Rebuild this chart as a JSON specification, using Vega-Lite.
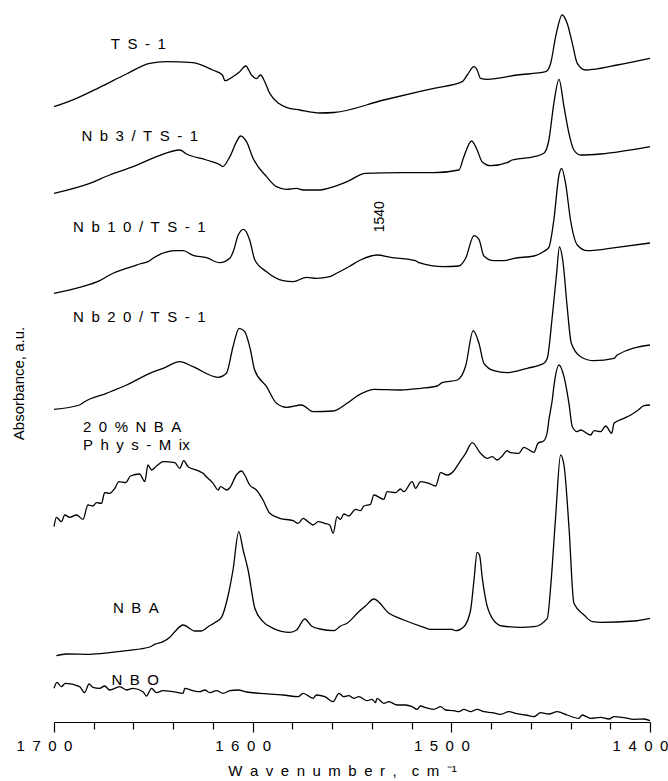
{
"$schema":"https://vega.github.io/schema/vega-lite/v6.json",
"width":596,"height":722,
"autosize":{"type":"none"},
"padding":{"left":54,"top":0,"right":18,"bottom":59},
"background":"white",
"config":{"view":{"stroke":null},"font":"Liberation Sans"},
"datasets":{
"spectra":[
{"sample":"TS-1","wn":1700,"A":6.153},{"sample":"TS-1","wn":1688.7,"A":6.237},{"sample":"TS-1","wn":1677,"A":6.347},{"sample":"TS-1","wn":1663.5,"A":6.48},{"sample":"TS-1","wn":1651.8,"A":6.587},{"sample":"TS-1","wn":1643.4,"A":6.603},{"sample":"TS-1","wn":1630.2,"A":6.593},{"sample":"TS-1","wn":1620.1,"A":6.52},{"sample":"TS-1","wn":1615.2,"A":6.47},{"sample":"TS-1","wn":1614,"A":6.413},{"sample":"TS-1","wn":1610,"A":6.453},{"sample":"TS-1","wn":1606.5,"A":6.503},{"sample":"TS-1","wn":1603.5,"A":6.56},{"sample":"TS-1","wn":1600.6,"A":6.47},{"sample":"TS-1","wn":1598.1,"A":6.433},{"sample":"TS-1","wn":1596.1,"A":6.47},{"sample":"TS-1","wn":1593.9,"A":6.403},{"sample":"TS-1","wn":1591.4,"A":6.287},{"sample":"TS-1","wn":1583,"A":6.147},{"sample":"TS-1","wn":1576.3,"A":6.12},{"sample":"TS-1","wn":1566.2,"A":6.09},{"sample":"TS-1","wn":1559.1,"A":6.095},{"sample":"TS-1","wn":1534,"A":6.22},{"sample":"TS-1","wn":1508.8,"A":6.337},{"sample":"TS-1","wn":1494.5,"A":6.403},{"sample":"TS-1","wn":1492,"A":6.47},{"sample":"TS-1","wn":1488.6,"A":6.553},{"sample":"TS-1","wn":1487,"A":6.52},{"sample":"TS-1","wn":1485.3,"A":6.437},{"sample":"TS-1","wn":1481.9,"A":6.427},{"sample":"TS-1","wn":1466.8,"A":6.47},{"sample":"TS-1","wn":1452.5,"A":6.503},{"sample":"TS-1","wn":1450,"A":6.587},{"sample":"TS-1","wn":1447.5,"A":6.853},{"sample":"TS-1","wn":1444.2,"A":7.07},{"sample":"TS-1","wn":1441.7,"A":6.987},{"sample":"TS-1","wn":1439.1,"A":6.787},{"sample":"TS-1","wn":1436.6,"A":6.587},{"sample":"TS-1","wn":1432.4,"A":6.52},{"sample":"TS-1","wn":1428.2,"A":6.527},{"sample":"TS-1","wn":1416.5,"A":6.57},{"sample":"TS-1","wn":1400,"A":6.637},
{"sample":"Nb3","wn":1700,"A":5.287},{"sample":"Nb3","wn":1682,"A":5.387},{"sample":"Nb3","wn":1672,"A":5.47},{"sample":"Nb3","wn":1660.2,"A":5.553},{"sample":"Nb3","wn":1648.4,"A":5.653},{"sample":"Nb3","wn":1636.7,"A":5.72},{"sample":"Nb3","wn":1633.3,"A":5.68},{"sample":"Nb3","wn":1623.3,"A":5.62},{"sample":"Nb3","wn":1615.7,"A":5.563},{"sample":"Nb3","wn":1615.2,"A":5.553},{"sample":"Nb3","wn":1611.5,"A":5.653},{"sample":"Nb3","wn":1608.1,"A":5.803},{"sample":"Nb3","wn":1606.1,"A":5.86},{"sample":"Nb3","wn":1603.1,"A":5.803},{"sample":"Nb3","wn":1599.8,"A":5.637},{"sample":"Nb3","wn":1593,"A":5.453},{"sample":"Nb3","wn":1588,"A":5.353},{"sample":"Nb3","wn":1583,"A":5.327},{"sample":"Nb3","wn":1578,"A":5.337},{"sample":"Nb3","wn":1574.6,"A":5.32},{"sample":"Nb3","wn":1566.2,"A":5.32},{"sample":"Nb3","wn":1559.1,"A":5.353},{"sample":"Nb3","wn":1552.5,"A":5.403},{"sample":"Nb3","wn":1543.2,"A":5.487},{"sample":"Nb3","wn":1525.5,"A":5.493},{"sample":"Nb3","wn":1508.8,"A":5.493},{"sample":"Nb3","wn":1496.2,"A":5.52},{"sample":"Nb3","wn":1493.7,"A":5.653},{"sample":"Nb3","wn":1489.8,"A":5.81},{"sample":"Nb3","wn":1487,"A":5.72},{"sample":"Nb3","wn":1484.5,"A":5.603},{"sample":"Nb3","wn":1480.2,"A":5.563},{"sample":"Nb3","wn":1471.9,"A":5.593},{"sample":"Nb3","wn":1469.4,"A":5.62},{"sample":"Nb3","wn":1458.4,"A":5.653},{"sample":"Nb3","wn":1453.4,"A":5.687},{"sample":"Nb3","wn":1450.9,"A":5.82},{"sample":"Nb3","wn":1448.4,"A":6.187},{"sample":"Nb3","wn":1445.8,"A":6.427},{"sample":"Nb3","wn":1443.3,"A":6.153},{"sample":"Nb3","wn":1440.8,"A":5.887},{"sample":"Nb3","wn":1438.3,"A":5.72},{"sample":"Nb3","wn":1434.9,"A":5.67},{"sample":"Nb3","wn":1424.9,"A":5.68},{"sample":"Nb3","wn":1400,"A":5.753},
{"sample":"Nb10","wn":1700,"A":4.287},{"sample":"Nb10","wn":1687.1,"A":4.347},{"sample":"Nb10","wn":1677,"A":4.413},{"sample":"Nb10","wn":1672,"A":4.47},{"sample":"Nb10","wn":1661.9,"A":4.547},{"sample":"Nb10","wn":1656.9,"A":4.58},{"sample":"Nb10","wn":1651.8,"A":4.613},{"sample":"Nb10","wn":1650.2,"A":4.637},{"sample":"Nb10","wn":1638.4,"A":4.713},{"sample":"Nb10","wn":1635,"A":4.713},{"sample":"Nb10","wn":1630,"A":4.667},{"sample":"Nb10","wn":1623.3,"A":4.643},{"sample":"Nb10","wn":1616.6,"A":4.593},{"sample":"Nb10","wn":1611.5,"A":4.637},{"sample":"Nb10","wn":1609.5,"A":4.72},{"sample":"Nb10","wn":1607.3,"A":4.87},{"sample":"Nb10","wn":1604.5,"A":4.927},{"sample":"Nb10","wn":1601.5,"A":4.82},{"sample":"Nb10","wn":1598.9,"A":4.62},{"sample":"Nb10","wn":1593,"A":4.503},{"sample":"Nb10","wn":1584.7,"A":4.413},{"sample":"Nb10","wn":1579.6,"A":4.403},{"sample":"Nb10","wn":1572.9,"A":4.447},{"sample":"Nb10","wn":1567.9,"A":4.437},{"sample":"Nb10","wn":1561.2,"A":4.453},{"sample":"Nb10","wn":1557.5,"A":4.49},{"sample":"Nb10","wn":1551.6,"A":4.553},{"sample":"Nb10","wn":1545.7,"A":4.62},{"sample":"Nb10","wn":1537.4,"A":4.67},{"sample":"Nb10","wn":1530.6,"A":4.647},{"sample":"Nb10","wn":1518,"A":4.613},{"sample":"Nb10","wn":1516.3,"A":4.593},{"sample":"Nb10","wn":1503.8,"A":4.553},{"sample":"Nb10","wn":1496.2,"A":4.56},{"sample":"Nb10","wn":1492.8,"A":4.637},{"sample":"Nb10","wn":1488.6,"A":4.863},{"sample":"Nb10","wn":1486.1,"A":4.827},{"sample":"Nb10","wn":1483.6,"A":4.66},{"sample":"Nb10","wn":1478.6,"A":4.613},{"sample":"Nb10","wn":1473.5,"A":4.613},{"sample":"Nb10","wn":1468.5,"A":4.637},{"sample":"Nb10","wn":1458.4,"A":4.66},{"sample":"Nb10","wn":1453.7,"A":4.703},{"sample":"Nb10","wn":1450.9,"A":4.747},{"sample":"Nb10","wn":1448.4,"A":5.02},{"sample":"Nb10","wn":1445.8,"A":5.47},{"sample":"Nb10","wn":1444.5,"A":5.537},{"sample":"Nb10","wn":1442.5,"A":5.387},{"sample":"Nb10","wn":1440,"A":5.02},{"sample":"Nb10","wn":1436.6,"A":4.77},{"sample":"Nb10","wn":1431.6,"A":4.713},{"sample":"Nb10","wn":1416.5,"A":4.747},{"sample":"Nb10","wn":1400,"A":4.79},
{"sample":"Nb20","wn":1700,"A":3.127},{"sample":"Nb20","wn":1687.1,"A":3.17},{"sample":"Nb20","wn":1684.6,"A":3.203},{"sample":"Nb20","wn":1673.6,"A":3.287},{"sample":"Nb20","wn":1663.5,"A":3.37},{"sample":"Nb20","wn":1651.8,"A":3.487},{"sample":"Nb20","wn":1645.1,"A":3.537},{"sample":"Nb20","wn":1636.7,"A":3.603},{"sample":"Nb20","wn":1630,"A":3.553},{"sample":"Nb20","wn":1617.4,"A":3.447},{"sample":"Nb20","wn":1613.2,"A":3.487},{"sample":"Nb20","wn":1609.9,"A":3.753},{"sample":"Nb20","wn":1606.8,"A":3.937},{"sample":"Nb20","wn":1604,"A":3.903},{"sample":"Nb20","wn":1601.1,"A":3.72},{"sample":"Nb20","wn":1599,"A":3.52},{"sample":"Nb20","wn":1593,"A":3.353},{"sample":"Nb20","wn":1588,"A":3.187},{"sample":"Nb20","wn":1583,"A":3.147},{"sample":"Nb20","wn":1575.4,"A":3.17},{"sample":"Nb20","wn":1569.6,"A":3.103},{"sample":"Nb20","wn":1559.5,"A":3.11},{"sample":"Nb20","wn":1552.5,"A":3.187},{"sample":"Nb20","wn":1547.4,"A":3.26},{"sample":"Nb20","wn":1539,"A":3.327},{"sample":"Nb20","wn":1525.5,"A":3.32},{"sample":"Nb20","wn":1515.5,"A":3.337},{"sample":"Nb20","wn":1507.1,"A":3.36},{"sample":"Nb20","wn":1504.6,"A":3.393},{"sample":"Nb20","wn":1497,"A":3.42},{"sample":"Nb20","wn":1492.8,"A":3.56},{"sample":"Nb20","wn":1489,"A":3.913},{"sample":"Nb20","wn":1486.1,"A":3.787},{"sample":"Nb20","wn":1483.6,"A":3.587},{"sample":"Nb20","wn":1478.6,"A":3.513},{"sample":"Nb20","wn":1471.9,"A":3.493},{"sample":"Nb20","wn":1461.8,"A":3.537},{"sample":"Nb20","wn":1453.4,"A":3.587},{"sample":"Nb20","wn":1451.7,"A":3.637},{"sample":"Nb20","wn":1449.2,"A":4.053},{"sample":"Nb20","wn":1447,"A":4.487},{"sample":"Nb20","wn":1445.6,"A":4.75},{"sample":"Nb20","wn":1443.8,"A":4.6},{"sample":"Nb20","wn":1441.7,"A":4.153},{"sample":"Nb20","wn":1439.6,"A":3.787},{"sample":"Nb20","wn":1434.9,"A":3.653},{"sample":"Nb20","wn":1428.2,"A":3.613},{"sample":"Nb20","wn":1418.1,"A":3.637},{"sample":"Nb20","wn":1416.5,"A":3.67},{"sample":"Nb20","wn":1400,"A":3.77},
{"sample":"Mix","wn":1700,"A":1.953},{"sample":"Mix","wn":1698.8,"A":2.047},{"sample":"Mix","wn":1696.3,"A":2.003},{"sample":"Mix","wn":1694.6,"A":2.07},{"sample":"Mix","wn":1692.1,"A":2.047},{"sample":"Mix","wn":1688.7,"A":2.07},{"sample":"Mix","wn":1685.4,"A":2.027},{"sample":"Mix","wn":1682.9,"A":2.17},{"sample":"Mix","wn":1680.4,"A":2.16},{"sample":"Mix","wn":1678.6,"A":2.193},{"sample":"Mix","wn":1676.1,"A":2.187},{"sample":"Mix","wn":1674.5,"A":2.293},{"sample":"Mix","wn":1672,"A":2.287},{"sample":"Mix","wn":1669.4,"A":2.337},{"sample":"Mix","wn":1667.3,"A":2.403},{"sample":"Mix","wn":1663.9,"A":2.393},{"sample":"Mix","wn":1661.5,"A":2.46},{"sample":"Mix","wn":1656.9,"A":2.48},{"sample":"Mix","wn":1654.3,"A":2.403},{"sample":"Mix","wn":1652.7,"A":2.57},{"sample":"Mix","wn":1650.9,"A":2.52},{"sample":"Mix","wn":1648.4,"A":2.56},{"sample":"Mix","wn":1645.1,"A":2.603},{"sample":"Mix","wn":1639.2,"A":2.593},{"sample":"Mix","wn":1636.7,"A":2.537},{"sample":"Mix","wn":1634.7,"A":2.613},{"sample":"Mix","wn":1632.5,"A":2.553},{"sample":"Mix","wn":1627.5,"A":2.513},{"sample":"Mix","wn":1625,"A":2.487},{"sample":"Mix","wn":1623.3,"A":2.453},{"sample":"Mix","wn":1619.9,"A":2.387},{"sample":"Mix","wn":1617.4,"A":2.32},{"sample":"Mix","wn":1616.1,"A":2.353},{"sample":"Mix","wn":1613.2,"A":2.32},{"sample":"Mix","wn":1611.5,"A":2.343},{"sample":"Mix","wn":1608.2,"A":2.47},{"sample":"Mix","wn":1605.6,"A":2.51},{"sample":"Mix","wn":1604,"A":2.47},{"sample":"Mix","wn":1601.5,"A":2.37},{"sample":"Mix","wn":1598.1,"A":2.32},{"sample":"Mix","wn":1594.8,"A":2.22},{"sample":"Mix","wn":1591.4,"A":2.087},{"sample":"Mix","wn":1586.4,"A":2.037},{"sample":"Mix","wn":1579.6,"A":2.013},{"sample":"Mix","wn":1577.1,"A":1.987},{"sample":"Mix","wn":1574.6,"A":2.037},{"sample":"Mix","wn":1572.1,"A":2.003},{"sample":"Mix","wn":1569.6,"A":1.97},{"sample":"Mix","wn":1567,"A":2.003},{"sample":"Mix","wn":1563.7,"A":1.987},{"sample":"Mix","wn":1561.2,"A":1.97},{"sample":"Mix","wn":1559.5,"A":1.887},{"sample":"Mix","wn":1557.5,"A":2.053},{"sample":"Mix","wn":1555.8,"A":2.027},{"sample":"Mix","wn":1554.1,"A":2.08},{"sample":"Mix","wn":1551.6,"A":2.06},{"sample":"Mix","wn":1548.2,"A":2.127},{"sample":"Mix","wn":1545.7,"A":2.113},{"sample":"Mix","wn":1544,"A":2.16},{"sample":"Mix","wn":1540.7,"A":2.177},{"sample":"Mix","wn":1539,"A":2.27},{"sample":"Mix","wn":1534,"A":2.227},{"sample":"Mix","wn":1532.3,"A":2.303},{"sample":"Mix","wn":1528.1,"A":2.293},{"sample":"Mix","wn":1525.6,"A":2.33},{"sample":"Mix","wn":1523.9,"A":2.303},{"sample":"Mix","wn":1519.7,"A":2.403},{"sample":"Mix","wn":1518,"A":2.337},{"sample":"Mix","wn":1515.5,"A":2.403},{"sample":"Mix","wn":1511.3,"A":2.387},{"sample":"Mix","wn":1507.9,"A":2.36},{"sample":"Mix","wn":1505.4,"A":2.493},{"sample":"Mix","wn":1502.1,"A":2.47},{"sample":"Mix","wn":1498.7,"A":2.513},{"sample":"Mix","wn":1496.2,"A":2.587},{"sample":"Mix","wn":1492.8,"A":2.687},{"sample":"Mix","wn":1489.5,"A":2.793},{"sample":"Mix","wn":1485.3,"A":2.687},{"sample":"Mix","wn":1481.9,"A":2.637},{"sample":"Mix","wn":1479.4,"A":2.653},{"sample":"Mix","wn":1476.9,"A":2.62},{"sample":"Mix","wn":1474.4,"A":2.66},{"sample":"Mix","wn":1471.9,"A":2.713},{"sample":"Mix","wn":1470.2,"A":2.693},{"sample":"Mix","wn":1466,"A":2.687},{"sample":"Mix","wn":1463.5,"A":2.747},{"sample":"Mix","wn":1458.4,"A":2.697},{"sample":"Mix","wn":1456.4,"A":2.787},{"sample":"Mix","wn":1453.4,"A":2.813},{"sample":"Mix","wn":1451.7,"A":2.9},{"sample":"Mix","wn":1450.9,"A":3.02},{"sample":"Mix","wn":1449.2,"A":3.22},{"sample":"Mix","wn":1448.4,"A":3.353},{"sample":"Mix","wn":1445.8,"A":3.57},{"sample":"Mix","wn":1443.3,"A":3.453},{"sample":"Mix","wn":1440.8,"A":3.187},{"sample":"Mix","wn":1439.1,"A":2.953},{"sample":"Mix","wn":1436.6,"A":2.903},{"sample":"Mix","wn":1434.9,"A":2.92},{"sample":"Mix","wn":1429.9,"A":2.87},{"sample":"Mix","wn":1428.2,"A":2.913},{"sample":"Mix","wn":1424.9,"A":2.903},{"sample":"Mix","wn":1422.3,"A":2.96},{"sample":"Mix","wn":1419.3,"A":2.887},{"sample":"Mix","wn":1418.1,"A":2.987},{"sample":"Mix","wn":1413.1,"A":3.037},{"sample":"Mix","wn":1409.7,"A":3.07},{"sample":"Mix","wn":1406.4,"A":3.113},{"sample":"Mix","wn":1403,"A":3.163},{"sample":"Mix","wn":1400,"A":3.17},
{"sample":"NBA","wn":1698.8,"A":0.663},{"sample":"NBA","wn":1693.8,"A":0.68},{"sample":"NBA","wn":1682,"A":0.677},{"sample":"NBA","wn":1672,"A":0.693},{"sample":"NBA","wn":1663.5,"A":0.713},{"sample":"NBA","wn":1651.8,"A":0.75},{"sample":"NBA","wn":1649.3,"A":0.777},{"sample":"NBA","wn":1645.1,"A":0.803},{"sample":"NBA","wn":1641.7,"A":0.847},{"sample":"NBA","wn":1639.2,"A":0.903},{"sample":"NBA","wn":1635,"A":0.97},{"sample":"NBA","wn":1629.1,"A":0.91},{"sample":"NBA","wn":1625.8,"A":0.91},{"sample":"NBA","wn":1621.9,"A":0.96},{"sample":"NBA","wn":1619.1,"A":0.993},{"sample":"NBA","wn":1615.7,"A":1.047},{"sample":"NBA","wn":1612.3,"A":1.27},{"sample":"NBA","wn":1609.9,"A":1.52},{"sample":"NBA","wn":1607,"A":1.903},{"sample":"NBA","wn":1604.8,"A":1.72},{"sample":"NBA","wn":1602.3,"A":1.52},{"sample":"NBA","wn":1598.9,"A":1.137},{"sample":"NBA","wn":1594.8,"A":1.003},{"sample":"NBA","wn":1589.7,"A":0.937},{"sample":"NBA","wn":1581.3,"A":0.897},{"sample":"NBA","wn":1577.9,"A":0.92},{"sample":"NBA","wn":1573.8,"A":1.03},{"sample":"NBA","wn":1570.4,"A":0.96},{"sample":"NBA","wn":1566.2,"A":0.93},{"sample":"NBA","wn":1559.1,"A":0.913},{"sample":"NBA","wn":1555.8,"A":0.96},{"sample":"NBA","wn":1552.5,"A":0.987},{"sample":"NBA","wn":1546.6,"A":1.103},{"sample":"NBA","wn":1543.2,"A":1.16},{"sample":"NBA","wn":1539,"A":1.23},{"sample":"NBA","wn":1531.4,"A":1.087},{"sample":"NBA","wn":1523.9,"A":1.02},{"sample":"NBA","wn":1513.8,"A":0.947},{"sample":"NBA","wn":1510.4,"A":0.927},{"sample":"NBA","wn":1499.6,"A":0.927},{"sample":"NBA","wn":1497.9,"A":0.913},{"sample":"NBA","wn":1493.7,"A":0.953},{"sample":"NBA","wn":1490.3,"A":1.12},{"sample":"NBA","wn":1488.6,"A":1.42},{"sample":"NBA","wn":1487,"A":1.697},{"sample":"NBA","wn":1485.8,"A":1.67},{"sample":"NBA","wn":1484.5,"A":1.453},{"sample":"NBA","wn":1482.5,"A":1.203},{"sample":"NBA","wn":1479.4,"A":1.037},{"sample":"NBA","wn":1474.4,"A":0.96},{"sample":"NBA","wn":1465.1,"A":0.947},{"sample":"NBA","wn":1458.4,"A":0.953},{"sample":"NBA","wn":1451.7,"A":1.037},{"sample":"NBA","wn":1450,"A":1.353},{"sample":"NBA","wn":1447.5,"A":2.053},{"sample":"NBA","wn":1445,"A":2.67},{"sample":"NBA","wn":1443.3,"A":2.57},{"sample":"NBA","wn":1440.8,"A":1.953},{"sample":"NBA","wn":1438.3,"A":1.187},{"sample":"NBA","wn":1433.2,"A":1.07},{"sample":"NBA","wn":1429,"A":1.003},{"sample":"NBA","wn":1424.8,"A":0.997},{"sample":"NBA","wn":1408.1,"A":1.01},{"sample":"NBA","wn":1400,"A":1.037},
{"sample":"NBO","wn":1700,"A":0.337},{"sample":"NBO","wn":1698.5,"A":0.397},{"sample":"NBO","wn":1696.3,"A":0.353},{"sample":"NBO","wn":1694.3,"A":0.387},{"sample":"NBO","wn":1687.1,"A":0.353},{"sample":"NBO","wn":1684.6,"A":0.293},{"sample":"NBO","wn":1682.4,"A":0.38},{"sample":"NBO","wn":1680.4,"A":0.347},{"sample":"NBO","wn":1677,"A":0.337},{"sample":"NBO","wn":1674.5,"A":0.36},{"sample":"NBO","wn":1672,"A":0.32},{"sample":"NBO","wn":1666.9,"A":0.353},{"sample":"NBO","wn":1663.5,"A":0.32},{"sample":"NBO","wn":1660.2,"A":0.337},{"sample":"NBO","wn":1655.2,"A":0.303},{"sample":"NBO","wn":1653.5,"A":0.26},{"sample":"NBO","wn":1650.9,"A":0.337},{"sample":"NBO","wn":1648.4,"A":0.293},{"sample":"NBO","wn":1645.1,"A":0.313},{"sample":"NBO","wn":1640.1,"A":0.303},{"sample":"NBO","wn":1635,"A":0.287},{"sample":"NBO","wn":1634.2,"A":0.337},{"sample":"NBO","wn":1630,"A":0.313},{"sample":"NBO","wn":1626.6,"A":0.303},{"sample":"NBO","wn":1624.1,"A":0.32},{"sample":"NBO","wn":1621.6,"A":0.293},{"sample":"NBO","wn":1618.2,"A":0.313},{"sample":"NBO","wn":1614.9,"A":0.287},{"sample":"NBO","wn":1611.5,"A":0.313},{"sample":"NBO","wn":1607.3,"A":0.32},{"sample":"NBO","wn":1603.1,"A":0.3},{"sample":"NBO","wn":1596.4,"A":0.287},{"sample":"NBO","wn":1584.7,"A":0.27},{"sample":"NBO","wn":1577.1,"A":0.253},{"sample":"NBO","wn":1574.6,"A":0.287},{"sample":"NBO","wn":1569.6,"A":0.237},{"sample":"NBO","wn":1567.9,"A":0.27},{"sample":"NBO","wn":1563.7,"A":0.253},{"sample":"NBO","wn":1559.5,"A":0.203},{"sample":"NBO","wn":1556.6,"A":0.287},{"sample":"NBO","wn":1554.1,"A":0.253},{"sample":"NBO","wn":1551.6,"A":0.263},{"sample":"NBO","wn":1549.1,"A":0.237},{"sample":"NBO","wn":1546.6,"A":0.253},{"sample":"NBO","wn":1542.4,"A":0.213},{"sample":"NBO","wn":1539.9,"A":0.227},{"sample":"NBO","wn":1538.2,"A":0.193},{"sample":"NBO","wn":1537.4,"A":0.237},{"sample":"NBO","wn":1534,"A":0.187},{"sample":"NBO","wn":1531.4,"A":0.203},{"sample":"NBO","wn":1527.3,"A":0.17},{"sample":"NBO","wn":1523,"A":0.17},{"sample":"NBO","wn":1519.7,"A":0.153},{"sample":"NBO","wn":1517.2,"A":0.127},{"sample":"NBO","wn":1515.5,"A":0.16},{"sample":"NBO","wn":1513,"A":0.143},{"sample":"NBO","wn":1508.8,"A":0.127},{"sample":"NBO","wn":1505.4,"A":0.153},{"sample":"NBO","wn":1502.9,"A":0.12},{"sample":"NBO","wn":1498.7,"A":0.113},{"sample":"NBO","wn":1496.2,"A":0.103},{"sample":"NBO","wn":1493.7,"A":0.127},{"sample":"NBO","wn":1490.3,"A":0.103},{"sample":"NBO","wn":1487,"A":0.127},{"sample":"NBO","wn":1483.6,"A":0.103},{"sample":"NBO","wn":1479.4,"A":0.093},{"sample":"NBO","wn":1475.2,"A":0.077},{"sample":"NBO","wn":1471,"A":0.103},{"sample":"NBO","wn":1467.6,"A":0.087},{"sample":"NBO","wn":1462.6,"A":0.07},{"sample":"NBO","wn":1458.4,"A":0.053},{"sample":"NBO","wn":1455.1,"A":0.093},{"sample":"NBO","wn":1450.9,"A":0.08},{"sample":"NBO","wn":1446.7,"A":0.103},{"sample":"NBO","wn":1441.7,"A":0.07},{"sample":"NBO","wn":1435.8,"A":0.037},{"sample":"NBO","wn":1434.1,"A":0.07},{"sample":"NBO","wn":1429.9,"A":0.037},{"sample":"NBO","wn":1424.8,"A":0.047},{"sample":"NBO","wn":1420.7,"A":0.03},{"sample":"NBO","wn":1418.1,"A":0.053},{"sample":"NBO","wn":1413.1,"A":0.043},{"sample":"NBO","wn":1408.1,"A":0.027},{"sample":"NBO","wn":1403,"A":0.03},{"sample":"NBO","wn":1400,"A":0.013}
],
"labels":[
{"text":"T\u2002S\u2002-\u20021","wn":1671.4,"A":6.78},
{"text":"N\u2002b\u20023\u2002/\u2002T\u2002S\u2002-\u20021","wn":1686.2,"A":5.86},
{"text":"N\u2002b\u20021\u20020\u2002/\u2002T\u2002S\u2002-\u20021","wn":1690.4,"A":4.953},
{"text":"N\u2002b\u20022\u20020\u2002/\u2002T\u2002S\u2002-\u20021","wn":1690.4,"A":4.053},
{"text":"2\u20020\u2002%\u2002N\u2002B\u2002A","wn":1685.4,"A":2.953},
{"text":"P\u2002h\u2002y\u2002s\u2002-\u2002M\u2002ix","wn":1685.4,"A":2.77},
{"text":"N\u2002B\u2002A","wn":1670.3,"A":1.137},
{"text":"N\u2002B\u2002O","wn":1671.1,"A":0.42}
],
"annot":[{"text":"1540","wn":1536.1,"A":5.053}]
},
"encoding":{
 "x":{"field":"wn","type":"quantitative",
  "scale":{"domain":[1400,1700],"reverse":true,"nice":false,"zero":false},
  "axis":{"values":[1400,1420,1440,1460,1480,1500,1520,1540,1560,1580,1600,1620,1640,1660,1680,1700],
   "title":"W\u2002a\u2002v\u2002e\u2002n\u2002u\u2002m\u2002b\u2002e\u2002r\u2002,\u2002\u2002c\u2002m\u2002\u207b\u00b9",
   "labelExpr":"datum.value % 100 === 0 ? join(split(toString(datum.value), ''), '\u2002') : ''",
   "tickSize":{"condition":{"test":"datum.value % 100 === 0","value":10},"value":7},
   "tickColor":"black","tickWidth":1.2,"domainColor":"black","domainWidth":1.2,
   "labelFontSize":15,"labelColor":"black","labelFont":"Liberation Sans","labelFlush":false,"labelOverlap":false,
   "labelPadding":6,"labelOffset":-10,"grid":false,
   "titleFontSize":15,"titleFontWeight":"normal","titleColor":"black","titleFont":"Liberation Sans","titlePadding":10,"titleX":288}},
 "y":{"field":"A","type":"quantitative",
  "scale":{"domain":[0,7.22],"nice":false,"zero":false},
  "axis":{"title":"Absorbance, a.u.","domain":false,"ticks":false,"labels":false,"grid":false,
   "titleFontSize":15,"titleFontWeight":"normal","titleColor":"black","titleFont":"Liberation Sans","titlePadding":28,"titleY":383}}
},
"layer":[
{"data":{"name":"spectra"},
 "mark":{"type":"line","color":"black","strokeWidth":1.3,"interpolate":"monotone"},
 "encoding":{"detail":{"field":"sample","type":"nominal"}}},
{"data":{"name":"labels"},
 "mark":{"type":"text","align":"left","baseline":"middle","fontSize":15,"font":"Liberation Sans","color":"black"},
 "encoding":{"text":{"field":"text"}}},
{"data":{"name":"annot"},
 "mark":{"type":"text","align":"center","baseline":"middle","angle":270,"fontSize":14,"font":"Liberation Sans","color":"black"},
 "encoding":{"text":{"field":"text"}}}
]
}
